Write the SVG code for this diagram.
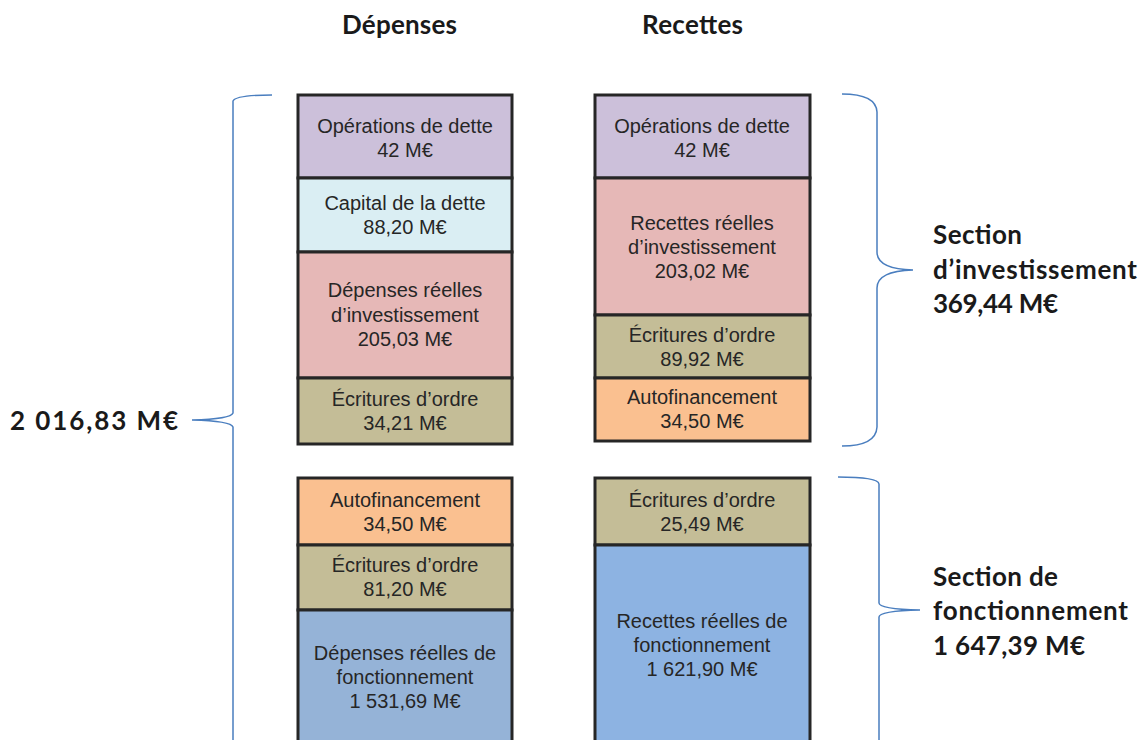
<svg xmlns="http://www.w3.org/2000/svg" width="1140" height="740" viewBox="0 0 1140 740">
<style>
.b{stroke:#262626;stroke-width:3}
.t{font-family:"Liberation Sans",Arial,sans-serif;font-size:20px;fill:#262626;text-anchor:middle}
.h{font-family:Lato,"Open Sans",sans-serif;font-weight:bold;font-size:26px;fill:#1a1a1a}
.br{fill:none;stroke:#4a7ebf;stroke-width:1.5}
</style>
<rect width="1140" height="740" fill="#fff"/>
<text class="h" x="342" y="34" textLength="115" lengthAdjust="spacing">Dépenses</text>
<text class="h" x="642" y="34" textLength="101" lengthAdjust="spacing">Recettes</text>

<g id="dep-ope"><rect class="b" x="298" y="95" width="214" height="83" fill="#CCC0DA"/><text class="t" x="405" y="133">Opérations de dette</text><text class="t" x="405" y="157">42 M€</text></g>
<g id="dep-cap"><rect class="b" x="298" y="178" width="214" height="74" fill="#DAEEF3"/><text class="t" x="405" y="210">Capital de la dette</text><text class="t" x="405" y="234">88,20 M€</text></g>
<g id="dep-inv"><rect class="b" x="298" y="252" width="214" height="126" fill="#E6B8B7"/><text class="t" x="405" y="297">Dépenses réelles</text><text class="t" x="405" y="322">d’investissement</text><text class="t" x="405" y="346">205,03 M€</text></g>
<g id="dep-ord1"><rect class="b" x="298" y="378" width="214" height="66" fill="#C4BD97"/><text class="t" x="405" y="406">Écritures d’ordre</text><text class="t" x="405" y="430">34,21 M€</text></g>

<g id="rec-ope"><rect class="b" x="595" y="95" width="215" height="83" fill="#CCC0DA"/><text class="t" x="702" y="133">Opérations de dette</text><text class="t" x="702" y="157">42 M€</text></g>
<g id="rec-inv"><rect class="b" x="595" y="178" width="215" height="137" fill="#E6B8B7"/><text class="t" x="702" y="230">Recettes réelles</text><text class="t" x="702" y="254">d’investissement</text><text class="t" x="702" y="278">203,02 M€</text></g>
<g id="rec-ord1"><rect class="b" x="595" y="315" width="215" height="63" fill="#C4BD97"/><text class="t" x="702" y="342">Écritures d’ordre</text><text class="t" x="702" y="366">89,92 M€</text></g>
<g id="rec-auto"><rect class="b" x="595" y="378" width="215" height="63" fill="#FAC090"/><text class="t" x="702" y="404">Autofinancement</text><text class="t" x="702" y="428">34,50 M€</text></g>

<g id="dep-auto"><rect class="b" x="298" y="478" width="214" height="67" fill="#FAC090"/><text class="t" x="405" y="507">Autofinancement</text><text class="t" x="405" y="531">34,50 M€</text></g>
<g id="dep-ord2"><rect class="b" x="298" y="545" width="214" height="65" fill="#C4BD97"/><text class="t" x="405" y="572">Écritures d’ordre</text><text class="t" x="405" y="596">81,20 M€</text></g>
<g id="dep-fonc"><rect class="b" x="298" y="610" width="214" height="140" fill="#95B3D7"/><text class="t" x="405" y="660">Dépenses réelles de</text><text class="t" x="405" y="684">fonctionnement</text><text class="t" x="405" y="708">1 531,69 M€</text></g>

<g id="rec-ord2"><rect class="b" x="595" y="478" width="215" height="67" fill="#C4BD97"/><text class="t" x="702" y="507">Écritures d’ordre</text><text class="t" x="702" y="531">25,49 M€</text></g>
<g id="rec-fonc"><rect class="b" x="595" y="545" width="215" height="205" fill="#8DB3E2"/><text class="t" x="702" y="628">Recettes réelles de</text><text class="t" x="702" y="652">fonctionnement</text><text class="t" x="702" y="676">1 621,90 M€</text></g>

<g id="connectors">
<path class="br" d="M272,95 Q236,95 233,101 L233,413 Q231,419 192,420 Q231,421 233,427 L233,745"/>
<path class="br" d="M842,94 Q876,94 877,112 L877,252 Q877,269 913,270 Q877,271 877,288 L877,427 Q876,446 842,446"/>
<path class="br" d="M838,477 Q878,477 879,484 L879,603 Q879,609 920,610 Q879,611 879,617 L879,745"/>
</g>

<g id="total"><text class="h" x="10" y="430" textLength="168" lengthAdjust="spacing">2 016,83 M€</text></g>
<g id="sec-inv"><text class="h" x="933" y="244" textLength="89" lengthAdjust="spacing">Section</text><text class="h" x="933" y="279" textLength="204" lengthAdjust="spacing">d’investissement</text><text class="h" x="933" y="313" textLength="125" lengthAdjust="spacing">369,44 M€</text></g>
<g id="sec-fonc"><text class="h" x="933" y="586" textLength="125" lengthAdjust="spacing">Section de</text><text class="h" x="933" y="620" textLength="195" lengthAdjust="spacing">fonctionnement</text><text class="h" x="933" y="655" textLength="152" lengthAdjust="spacing">1 647,39 M€</text></g>
</svg>
